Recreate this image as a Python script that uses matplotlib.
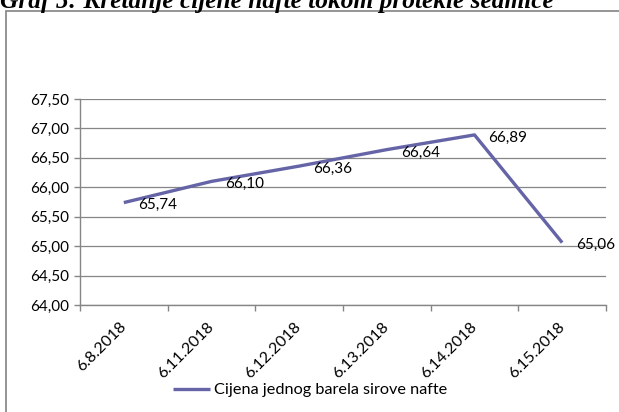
import matplotlib.pyplot as plt
from matplotlib.patches import Rectangle
from matplotlib.ticker import FixedLocator

# podaci
datumi = ["6.8.2018", "6.11.2018", "6.12.2018", "6.13.2018", "6.14.2018", "6.15.2018"]
cijene = [65.74, 66.10, 66.36, 66.64, 66.89, 65.06]
y_ticks = [64.0, 64.5, 65.0, 65.5, 66.0, 66.5, 67.0, 67.5]

W, H = 619, 412
fig = plt.figure(figsize=(W / 100, H / 100), dpi=100)
fig.patch.set_facecolor("white")

# okvir oko grafikona
fig.patches.append(Rectangle((6 / W, -0.05), 1.2, 1 - 11 / H + 0.05, transform=fig.transFigure,
                             fill=False, edgecolor="#8c8c8c", linewidth=1.3))

# naslov (odsjecen na vrhu kao u originalu)
fig.text(0 / W, 1 - 8 / H, "Graf 5: Kretanje cijene nafte tokom protekle sedmice",
         family="Liberation Serif", weight="bold", style="italic", fontsize=18.3,
         ha="left", va="baseline")

ax = fig.add_axes([80 / W, 1 - 305 / H, (606 - 80) / W, (305 - 99) / H])
x = list(range(len(datumi)))
boja = "#6464a6"
linija, = ax.plot(x, cijene, color=boja, linewidth=2.4, solid_capstyle="butt",
                  label="Cijena jednog barela sirove nafte")

font = "Lato"
fs = 11
for xi, v in zip(x, cijene):
    ax.annotate(f"{v:.2f}".replace(".", ","), (xi, v), xytext=(10, -2),
                textcoords="offset points", ha="left", va="center",
                fontsize=fs, family=font, annotation_clip=False)

ax.set_xlim(-0.5, len(datumi) - 0.5)
ax.set_ylim(64, 67.5)
ax.set_yticks(y_ticks)
ax.set_yticklabels([f"{t:.2f}".replace(".", ",") for t in y_ticks], family=font, fontsize=fs)
ax.set_xticks(x)
ax.set_xticklabels(datumi, rotation=45, ha="right", va="center", rotation_mode="anchor",
                   family=font, fontsize=11.5)
ax.xaxis.set_minor_locator(FixedLocator([i - 0.5 for i in range(len(datumi) + 1)]))
ax.tick_params(axis="x", which="major", length=0, pad=14)
ax.tick_params(axis="x", which="minor", length=4, color="#868686", width=1)
ax.tick_params(axis="y", length=4, color="#868686", width=1, pad=4)

ax.grid(axis="y", color="#868686", linewidth=0.9)
ax.set_axisbelow(True)
for s in ["top", "right"]:
    ax.spines[s].set_visible(False)
for s in ["left", "bottom"]:
    ax.spines[s].set_color("#868686")
    ax.spines[s].set_linewidth(1)

fig.legend(handles=[linija], loc="center", bbox_to_anchor=(310 / W, 1 - 390 / H), frameon=False,
           prop={"family": font, "size": 11.7}, handlelength=2.3, handletextpad=0.2)

fig.savefig("out.png", dpi=100)
